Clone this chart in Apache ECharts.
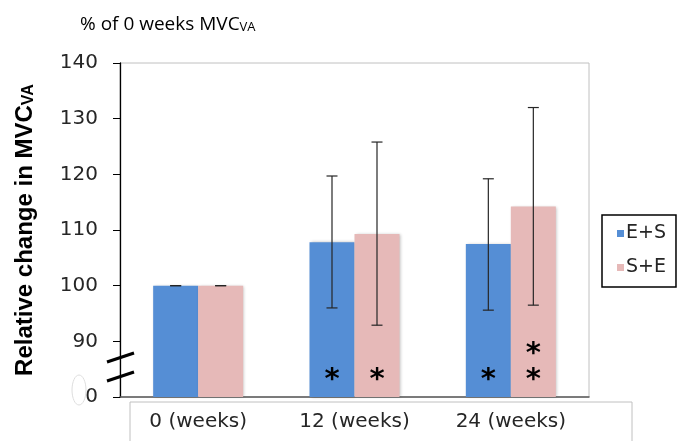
<!DOCTYPE html>
<html>
<head>
<meta charset="utf-8">
<script src="https://cdn.jsdelivr.net/npm/echarts@6/dist/echarts.min.js"></script>
<style>html,body{margin:0;padding:0;background:#fff;}#c{width:685px;height:441px;}</style>
</head>
<body>
<div id="c"></div>
<script>
// ---- data ----
const categories = ['0 (weeks)', '12 (weeks)', '24 (weeks)'];
const seriesNames = ['E+S', 'S+E'];
const esMean = [100, 107.8, 107.5];
const seMean = [100, 109.3, 114.2];
const esLow  = [100, 96.0, 95.6];
const esHigh = [100, 119.7, 119.2];
const seLow  = [100, 92.9, 96.5];
const seHigh = [100, 125.8, 132.0];
const esStars = [0, 1, 1];
const seStars = [0, 1, 2];
const yMin = 80, yMax = 140, yStep = 10;
const yBreakLabel = '0';   // label shown at the broken bottom of the axis

// ---- styles ----
const BAR_W = 45;
const BLUE = '#558ED5', PINK = '#E6B9B8';
const FONT = 'DejaVu Sans';

const chart = echarts.init(document.getElementById('c'));

function errorSeries(sign, lows, highs) {
  return {
    type: 'custom', z: 5,
    data: lows.map((l, i) => [i, l, highs[i]]),
    renderItem: (params, api) => {
      const i = api.value(0);
      const lo = api.coord([i, api.value(1)]);
      const hi = api.coord([i, api.value(2)]);
      const x = lo[0] + sign * BAR_W / 2;
      const cw = 5.5;
      const st = { stroke: '#262626', lineWidth: 1.2 };
      return { type: 'group', children: [
        { type: 'line', shape: { x1: x, y1: lo[1], x2: x, y2: hi[1] }, style: st },
        { type: 'line', shape: { x1: x - cw, y1: hi[1], x2: x + cw, y2: hi[1] }, style: st },
        { type: 'line', shape: { x1: x - cw, y1: lo[1], x2: x + cw, y2: lo[1] }, style: st }
      ]};
    }
  };
}

function starSeries(sign, stars) {
  return {
    type: 'custom', z: 6,
    data: stars.map((n, i) => [i, n]),
    renderItem: (params, api) => {
      const i = api.value(0), n = api.value(1);
      const children = [];
      for (let k = 0; k < n; k++) {
        const p = api.coord([i, 84.3 + k * 4.6]);
        children.push({ type: 'text', style: {
          text: '*', x: p[0] + sign * BAR_W / 2, y: p[1] + 7,
          align: 'center', verticalAlign: 'middle',
          font: 'bold 29px "DejaVu Sans"', fill: '#000'
        }});
      }
      return { type: 'group', children };
    }
  };
}

const barStyle = (c) => ({ color: c, shadowBlur: 3, shadowColor: 'rgba(0,0,0,0.25)', shadowOffsetX: 1, shadowOffsetY: 0 });

chart.setOption({
  animation: false,
  textStyle: { fontFamily: FONT },
  title: {
    text: '{a|% of 0 weeks MVC}{b|VA}', left: 75, top: 3,
    textStyle: { fontWeight: 'normal', rich: {
      a: { fontFamily: 'Open Sans', fontWeight: 'normal', fontSize: 19, color: '#000', verticalAlign: 'bottom', lineHeight: 26 },
      b: { fontFamily: 'Open Sans', fontWeight: 'normal', fontSize: 13, color: '#000', verticalAlign: 'bottom', lineHeight: 19 }
    }}
  },
  legend: {
    orient: 'vertical', left: 602, top: 215,
    data: seriesNames, icon: 'rect', itemWidth: 7, itemHeight: 7, itemGap: 15,
    borderColor: '#000', borderWidth: 1.5, borderRadius: 0,
    padding: [9, 10, 10, 15],
    textStyle: { fontFamily: FONT, fontSize: 19, color: '#262626', padding: [0, 0, 0, -3] }
  },
  grid: { left: 120, right: 96, top: 63, bottom: 44, show: true, borderColor: '#c0c0c0', borderWidth: 1 },
  xAxis: {
    type: 'category', data: categories,
    axisLine: { lineStyle: { color: '#595959', width: 1.5 } },
    axisTick: { show: false },
    axisLabel: { fontFamily: FONT, fontSize: 20, color: '#262626', margin: 15 }
  },
  yAxis: {
    type: 'value', min: yMin, max: yMax, interval: yStep,
    axisLine: { show: true, lineStyle: { color: '#000', width: 1.3 } },
    axisTick: { show: true, length: 7, lineStyle: { color: '#000' } },
    splitLine: { show: false },
    axisLabel: { fontFamily: FONT, fontSize: 20, color: '#262626', margin: 22,
      formatter: v => (v === yMin ? yBreakLabel : String(v)) },
    name: '{a|Relative change in MVC}{b|VA}', nameLocation: 'middle', nameRotate: 90, nameGap: 83,
    nameTextStyle: { rich: {
      a: { fontFamily: 'Liberation Sans', fontWeight: 'bold', fontSize: 24, color: '#000', verticalAlign: 'bottom', lineHeight: 29 },
      b: { fontFamily: 'Liberation Sans', fontWeight: 'bold', fontSize: 16, color: '#000', verticalAlign: 'bottom', lineHeight: 23 }
    }}
  },
  graphic: [
    { type: 'rect', shape: { x: 130, y: 402, width: 502, height: 60 }, style: { fill: 'none', stroke: '#c0c0c0', lineWidth: 1 }, z: -1 },
    { type: 'line', shape: { x1: 107, y1: 362, x2: 134, y2: 353 }, style: { stroke: '#000', lineWidth: 3 }, z: 100 },
    { type: 'line', shape: { x1: 107, y1: 381, x2: 134, y2: 372 }, style: { stroke: '#000', lineWidth: 3 }, z: 100 },
    { type: 'ellipse', shape: { cx: 79, cy: 390, rx: 7, ry: 15 }, style: { fill: 'none', stroke: '#dddddd', lineWidth: 1 }, z: 100 }
  ],
  series: [
    { name: seriesNames[0], type: 'bar', data: esMean, barWidth: BAR_W, barGap: '0%', itemStyle: barStyle(BLUE) },
    { name: seriesNames[1], type: 'bar', data: seMean, barWidth: BAR_W, barGap: '0%', itemStyle: barStyle(PINK) },
    errorSeries(-1, esLow, esHigh),
    errorSeries(1, seLow, seHigh),
    starSeries(-1, esStars),
    starSeries(1, seStars)
  ]
});
</script>
</body>
</html>
